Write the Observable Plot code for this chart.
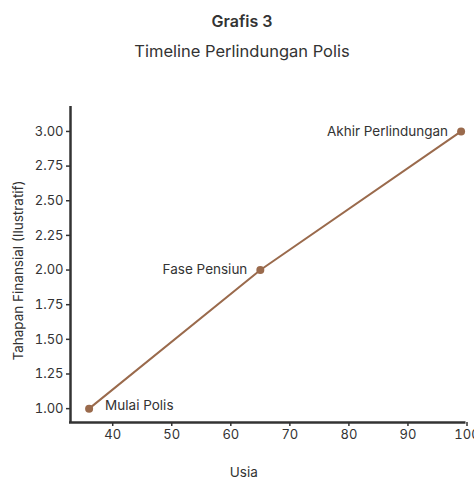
<!DOCTYPE html>
<html>
<head>
<meta charset="utf-8">
<script src="https://cdn.jsdelivr.net/npm/d3@7"></script>
<script src="https://cdn.jsdelivr.net/npm/@observablehq/plot@0.6"></script>
<style>
  body { margin: 0; background: #fff; font-family: Inter, "Noto Sans", sans-serif; color: #333; }
  #wrap { width: 474px; }
  .t1 { height: 38px; line-height: 42px; text-align: center; font-weight: 600; font-size: 16px; padding-left: 10px; box-sizing: border-box; }
  .t2 { height: 32px; line-height: 26px; text-align: center; font-size: 16.5px; padding-left: 10px; box-sizing: border-box; }
  svg { display: block; }
</style>
</head>
<body>
<div id="wrap">
  <div class="t1">Grafis 3</div>
  <div class="t2">Timeline Perlindungan Polis</div>
  <div id="chart"></div>
</div>
<script>
const ages = [36, 65, 99];
const stages = [1, 2, 3];
const labels = ["Mulai Polis", "Fase Pensiun", "Akhir Perlindungan"];
const xTicks = [40, 50, 60, 70, 80, 90, 100];
const yTicks = [1.00, 1.25, 1.50, 1.75, 2.00, 2.25, 2.50, 2.75, 3.00];
const xTitle = "Usia";
const yTitle = "Tahapan Finansial (Ilustratif)";

const data = ages.map((a, i) => ({age: a, stage: stages[i], label: labels[i]}));
const xDom = [32.85, 100];
const yDom = [0.9, 3.18];
const ink = "#333";
const brown = "#9a6a4c";

const chart = Plot.plot({
  width: 474,
  height: 408,
  marginTop: 36,
  marginBottom: 56,
  marginLeft: 70,
  marginRight: 7.5,
  style: {fontFamily: "Inter, 'Noto Sans', sans-serif", fontSize: "13px", color: ink, background: "#fff"},
  x: {domain: xDom, axis: null},
  y: {domain: yDom, axis: null},
  marks: [
    Plot.axisX({ticks: xTicks, tickSize: 4, tickPadding: 3, stroke: ink, strokeWidth: 1.5, fill: ink, fontSize: 13, label: null}),
    Plot.axisY({ticks: yTicks, tickSize: 4, tickPadding: 3, stroke: ink, strokeWidth: 1.5, fill: ink, fontSize: 13, label: null, tickFormat: d3.format(".2f")}),
    Plot.ruleX([xDom[0]], {y1: yDom[0], y2: yDom[1], stroke: ink, strokeWidth: 2.5}),
    Plot.ruleY([yDom[0]], {x1: xDom[0], x2: xDom[1], stroke: ink, strokeWidth: 2.5, dx: -1}),
    Plot.line(data, {x: "age", y: "stage", stroke: brown, strokeWidth: 2}),
    Plot.dot(data, {x: "age", y: "stage", fill: brown, r: 4}),
    Plot.text([data[0]], {x: "age", y: "stage", text: "label", textAnchor: "start", dx: 16, dy: -3, fill: ink, fontSize: 13.5}),
    Plot.text(data.slice(1), {x: "age", y: "stage", text: "label", textAnchor: "end", dx: -13, dy: 0, fill: ink, fontSize: 13.5}),
    Plot.text([xTitle], {frameAnchor: "bottom", dy: 54, fill: ink, fontSize: 13.5, dx: -25}),
    Plot.text([yTitle], {frameAnchor: "left", textAnchor: "middle", rotate: -90, dx: -52, fill: ink, fontSize: 13.5, dy: 6})
  ]
});
document.getElementById("chart").appendChild(chart);
</script>
</body>
</html>
